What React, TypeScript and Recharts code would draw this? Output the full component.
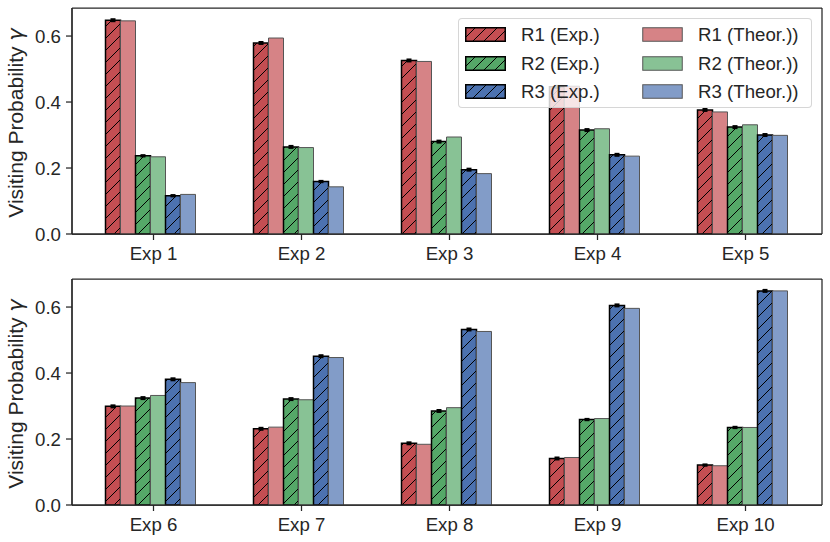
import React from 'react';
import { BarChart, Bar, XAxis, YAxis, ErrorBar, Legend, CartesianGrid } from 'recharts';

const FONT = '"Liberation Sans", Arial, sans-serif';
const INK = '#262626';
const TICK_SIZE = 18.67;
const LABEL_SIZE = 21;

const topCategories = ['Exp 1', 'Exp 2', 'Exp 3', 'Exp 4', 'Exp 5'];
const bottomCategories = ['Exp 6', 'Exp 7', 'Exp 8', 'Exp 9', 'Exp 10'];
const yTicks = [0, 0.2, 0.4, 0.6];

// top panel
const r1ExpTop = [0.648, 0.579, 0.526, 0.446, 0.376];
const r1TheorTop = [0.646, 0.594, 0.523, 0.448, 0.37];
const r2ExpTop = [0.237, 0.264, 0.28, 0.315, 0.324];
const r2TheorTop = [0.234, 0.262, 0.294, 0.319, 0.331];
const r3ExpTop = [0.116, 0.159, 0.195, 0.24, 0.3];
const r3TheorTop = [0.12, 0.143, 0.183, 0.236, 0.299];
const r1ErrTop = [0.003, 0.003, 0.003, 0.003, 0.003];
const r2ErrTop = [0.002, 0.003, 0.003, 0.003, 0.003];
const r3ErrTop = [0.002, 0.002, 0.003, 0.003, 0.003];

// bottom panel
const r1ExpBottom = [0.299, 0.231, 0.187, 0.141, 0.121];
const r1TheorBottom = [0.3, 0.236, 0.184, 0.144, 0.119];
const r2ExpBottom = [0.324, 0.321, 0.285, 0.259, 0.235];
const r2TheorBottom = [0.332, 0.319, 0.295, 0.262, 0.235];
const r3ExpBottom = [0.381, 0.451, 0.532, 0.605, 0.649];
const r3TheorBottom = [0.371, 0.447, 0.526, 0.596, 0.649];
const r1ErrBottom = [0.003, 0.003, 0.003, 0.003, 0.002];
const r2ErrBottom = [0.003, 0.003, 0.003, 0.002, 0.002];
const r3ErrBottom = [0.003, 0.003, 0.003, 0.003, 0.003];

const series = [
  { key: 'r1e', err: 'r1err', label: 'R1 (Exp.)', color: '#c44e52', hatch: true },
  { key: 'r1t', label: 'R1 (Theor.))', color: '#d68386', hatch: false },
  { key: 'r2e', err: 'r2err', label: 'R2 (Exp.)', color: '#55a868', hatch: true },
  { key: 'r2t', label: 'R2 (Theor.))', color: '#88c295', hatch: false },
  { key: 'r3e', err: 'r3err', label: 'R3 (Exp.)', color: '#4c72b0', hatch: true },
  { key: 'r3t', label: 'R3 (Theor.))', color: '#829cc8', hatch: false },
];

function buildRows(cats, r1e, r1t, r2e, r2t, r3e, r3t, e1, e2, e3) {
  return cats.map((name, i) => ({
    name,
    r1e: r1e[i], r1t: r1t[i],
    r2e: r2e[i], r2t: r2t[i],
    r3e: r3e[i], r3t: r3t[i],
    r1err: e1[i], r2err: e2[i], r3err: e3[i],
  }));
}

const topData = buildRows(topCategories, r1ExpTop, r1TheorTop, r2ExpTop, r2TheorTop, r3ExpTop, r3TheorTop, r1ErrTop, r2ErrTop, r3ErrTop);
const bottomData = buildRows(bottomCategories, r1ExpBottom, r1TheorBottom, r2ExpBottom, r2TheorBottom, r3ExpBottom, r3TheorBottom, r1ErrBottom, r2ErrBottom, r3ErrBottom);

function HatchDefs({ prefix }: { prefix: string }) {
  return (
    <defs>
      {series.filter((s) => s.hatch).map((s) => (
        <pattern key={s.key} id={`${prefix}-${s.key}`} patternUnits="userSpaceOnUse" width={12} height={12}>
          <rect width={12} height={12} fill={s.color} />
          <path d="M-3,3 L3,-3 M0,12 L12,0 M9,15 L15,9" stroke="#000" strokeWidth={1} />
        </pattern>
      ))}
    </defs>
  );
}

function ExpTick(props: any) {
  const { x, y, payload } = props;
  const tx = x + 3;
  return (
    <g>
      <line x1={tx} y1={y - 13} x2={tx} y2={y - 7} stroke={INK} strokeWidth={1.25} />
      <text x={tx} y={y} dy="0.71em" textAnchor="middle" fill={INK} fontSize={TICK_SIZE} fontFamily={FONT}>
        {payload.value}
      </text>
    </g>
  );
}

function YLabel(props: any) {
  const { viewBox } = props;
  const x = viewBox.x + 10.5;
  const y = viewBox.y + viewBox.height / 2 + 2;
  return (
    <text x={x} y={y} transform={`rotate(-90, ${x}, ${y})`} textAnchor="middle" fill={INK} fontSize={LABEL_SIZE} fontFamily={FONT}>
      Visiting Probability <tspan fontStyle="italic" fontFamily='"DejaVu Sans", sans-serif'>γ</tspan>
    </text>
  );
}

// frame lines on all four sides of the plot area
const frameRows = ({ offset }: any) => [offset.top, offset.top + offset.height];
const frameCols = ({ offset }: any) => [offset.left, offset.left + offset.width];

function LegendPatch({ s }: { s: (typeof series)[number] }) {
  const id = `legend-${s.key}`;
  return (
    <svg width={41} height={15} style={{ display: 'block' }}>
      {s.hatch && (
        <defs>
          <pattern id={id} patternUnits="userSpaceOnUse" width={11} height={11}>
            <rect width={11} height={11} fill={s.color} />
            <path d="M-3,3 L3,-3 M0,11 L11,0 M8,14 L14,8" stroke="#000" strokeWidth={1} />
          </pattern>
        </defs>
      )}
      <rect
        x={0.75}
        y={0.75}
        width={39.5}
        height={13.5}
        fill={s.hatch ? `url(#${id})` : s.color}
        stroke={s.hatch ? '#000' : '#555'}
        strokeWidth={s.hatch ? 1.5 : 1}
      />
    </svg>
  );
}

function LegendBox() {
  const rowTops = [8, 37, 65];
  const expSeries = series.filter((s) => s.hatch);
  const theorSeries = series.filter((s) => !s.hatch);
  const entry = (s, left, top) => (
    <div key={s.key} style={{ position: 'absolute', left, top, display: 'flex', alignItems: 'center', height: 15 }}>
      <LegendPatch s={s} />
      <span style={{ marginLeft: 15, fontSize: TICK_SIZE, fontFamily: FONT, color: INK, whiteSpace: 'nowrap', lineHeight: '15px' }}>
        {s.label}
      </span>
    </div>
  );
  return (
    <div
      style={{
        position: 'relative',
        boxSizing: 'border-box',
        width: 354,
        height: 90,
        background: 'rgba(255,255,255,0.8)',
        border: '1px solid rgba(204,204,204,0.8)',
        borderRadius: 4,
      }}
    >
      {expSeries.map((s, i) => entry(s, 6, rowTops[i]))}
      {theorSeries.map((s, i) => entry(s, 183, rowTops[i]))}
    </div>
  );
}

function Panel({ data, prefix, showLegend }: { data: any[]; prefix: string; showLegend?: boolean }) {
  const axisStyle = { stroke: INK, strokeWidth: 1.25 };
  return (
    <BarChart
      width={830}
      height={271}
      data={data}
      margin={{ top: 8, right: 8, bottom: 0, left: 12 }}
      barSize={15}
      barGap={0}
    >
      <HatchDefs prefix={prefix} />
      <CartesianGrid
        stroke={INK}
        strokeWidth={1.25}
        fill="none"
        horizontalCoordinatesGenerator={frameRows}
        verticalCoordinatesGenerator={frameCols}
      />
      <XAxis
        dataKey="name"
        height={37}
        padding={{ left: 4.5, right: 5.5 }}
        axisLine={axisStyle}
        tickLine={false}
        tickMargin={7}
        tick={<ExpTick />}
        interval={0}
      />
      <YAxis
        width={60}
        domain={[0, 0.685]}
        ticks={yTicks}
        allowDataOverflow
        tickFormatter={(v) => v.toFixed(1)}
        tick={{ fill: INK, fontSize: TICK_SIZE, fontFamily: FONT }}
        tickLine={axisStyle}
        tickSize={6}
        tickMargin={5}
        axisLine={axisStyle}
        label={YLabel}
      />
      {series.map((s) =>
        s.hatch ? (
          <Bar
            key={s.key}
            dataKey={s.key}
            fill={`url(#${prefix}-${s.key})`}
            stroke="#000"
            strokeWidth={1.5}
            isAnimationActive={false}
          >
            <ErrorBar dataKey={s.err} width={2.5} strokeWidth={2} stroke="#000" direction="y" />
          </Bar>
        ) : (
          <Bar
            key={s.key}
            dataKey={s.key}
            fill={s.color}
            stroke="#555"
            strokeWidth={1}
            isAnimationActive={false}
          />
        )
      )}
      {showLegend && (
        <Legend
          layout="horizontal"
          verticalAlign="middle"
          align="center"
          content={<LegendBox />}
          wrapperStyle={{ left: 458, top: 18, width: 354, height: 90 }}
        />
      )}
    </BarChart>
  );
}

export default function App() {
  return (
    <div style={{ position: 'absolute', left: 0, top: 0, width: 830, height: 542, background: '#fff' }}>
      <Panel data={topData} prefix="top" showLegend />
      <Panel data={bottomData} prefix="bottom" />
    </div>
  );
}
